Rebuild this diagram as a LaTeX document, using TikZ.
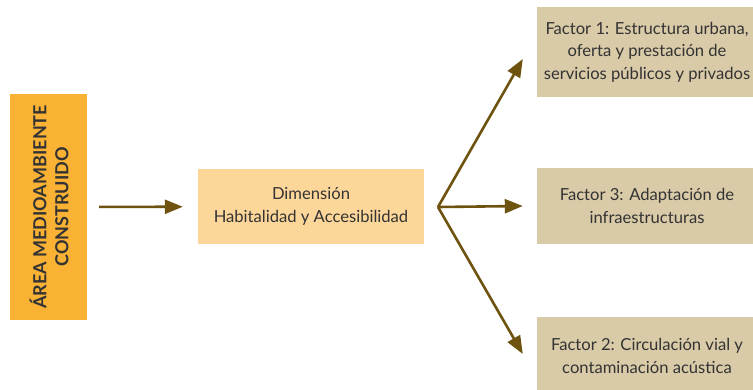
\documentclass[tikz,border=0pt]{standalone}
\usepackage{fontspec}
\setmainfont{Lato}
\usetikzlibrary{arrows.meta}
\definecolor{areaOrange}{HTML}{F9B234}
\definecolor{dimPeach}{HTML}{FDD699}
\definecolor{factorTan}{HTML}{D9CAA8}
\definecolor{arrowBrown}{HTML}{6E5310}
\definecolor{textGray}{HTML}{333333}
\tikzset{
    areabox/.style={fill=areaOrange, minimum width=77pt, minimum height=226pt, inner sep=0pt},
    dimbox/.style={fill=dimPeach, minimum width=226pt, minimum height=75pt, align=center,
        text=textGray, font=\fontsize{16.6}{22.5}\selectfont},
    factorbox/.style={fill=factorTan, minimum width=220pt, align=center, inner xsep=2pt,
        text=textGray, font=\fontsize{16.6}{22.5}\selectfont},
    flecha/.style={draw=arrowBrown, line width=2.6pt, -{Triangle[length=18pt,width=14pt]}},
}

\begin{document}
\begin{tikzpicture}[x=1pt, y=-1pt]
    \useasboundingbox (0,0) rectangle (753,389);
    % bloques
    \node[areabox] (area) at (48.5,207) {};
    \node[rotate=90, align=center, text=textGray, font=\fontsize{18}{22}\selectfont\bfseries]
        (areatxt) at (49,207) {ÁREA MEDIOAMBIENTE\\CONSTRUIDO};
    \node[dimbox] (dim) at (311,206.5) {Dimensión\\Habitalidad y Accesibilidad};
    \node[factorbox, minimum height=90pt] (f1) at (647,52)
        {Factor 1: Estructura urbana,\\oferta y prestación de\\servicios públicos y privados};
    \node[factorbox, minimum height=76pt] (f3) at (647,206)
        {Factor 3: Adaptación de\\infraestructuras};
    \node[factorbox, minimum height=78pt] (f2) at (647,356)
        {Factor 2: Circulación vial y\\contaminación acústica};
    % flechas
    \coordinate (split) at (438,207);
    \draw[flecha, shorten <=12pt, shorten >=15pt] (area) -- (dim);
    \foreach \f/\dy in {f1/-7, f3/0, f2/2} {
        \draw[flecha] (split) -- ([xshift=-14pt, yshift=\dy pt]\f.west);
    }
\end{tikzpicture}
\end{document}
